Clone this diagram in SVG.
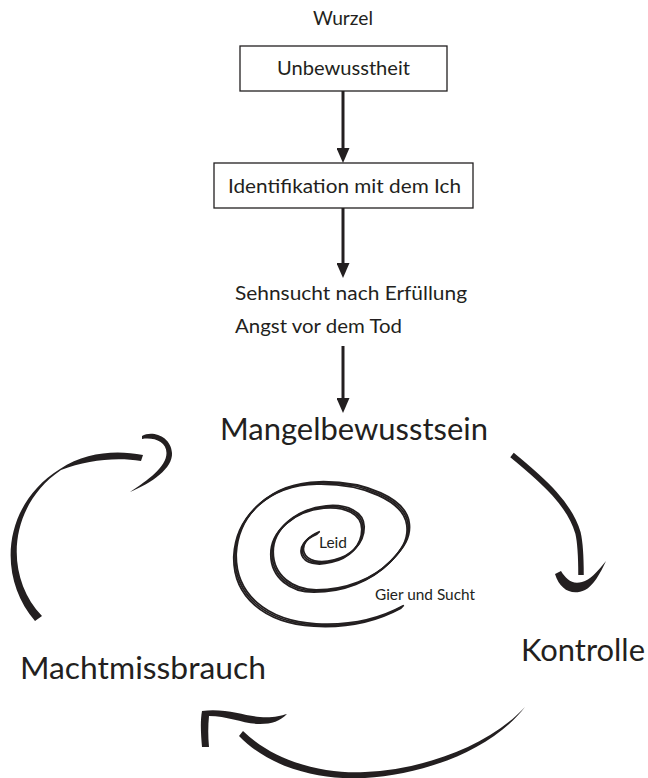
<svg xmlns="http://www.w3.org/2000/svg" xmlns:xlink="http://www.w3.org/1999/xlink" width="648" height="778" viewBox="0 0 648 778">
<style>
  .t { font-family: Lato, "Source Sans Pro", "Noto Sans", sans-serif; fill: #231f20; }
  .box { fill: #ffffff; stroke: #231f20; stroke-width: 1.3; }
  .arr { stroke: #231f20; stroke-width: 3; fill: none; }
  .brush { fill: #231f20; stroke: none; }
  .sp { fill: none; stroke: #231f20; stroke-width: 1.8; stroke-linecap: round; }
</style>
<defs>
  <marker id="ah" viewBox="0 0 15 13" refX="7" refY="6.5" markerWidth="15" markerHeight="13" markerUnits="userSpaceOnUse" orient="auto">
    <path d="M0,0 L15,6.5 L0,13 Z" fill="#231f20"/>
  </marker>
  <path id="spiralPath" d="M318,533 C306,538 300,546 303,554 C306,562 318,565 333,561 C350,557 363,545 363,528 C363,513 346,505 325,507 C295,510 272,530 272,553 C272,577 292,591 315,591 C345,591 372,580 390,562 C403,549 410,538 408,524 C405,500 365,482 318,483 C270,484 237,515 235,555 C234,595 265,622 315,625 C350,627 380,619 402,607"/>
</defs>
<rect width="648" height="778" fill="#ffffff"/>

<g id="connectors">
  <line class="arr" x1="343" y1="91" x2="343" y2="155" marker-end="url(#ah)"/>
  <line class="arr" x1="343" y1="208" x2="343" y2="270" marker-end="url(#ah)"/>
  <line class="arr" x1="343" y1="346" x2="343" y2="405" marker-end="url(#ah)"/>
  <!-- Mangelbewusstsein -> Kontrolle -->
  <path d="M512,455 C545,482 570,505 578,533 C581,546 581,560 581,575" fill="none" stroke="#231f20" stroke-width="5.5"/>
  <path class="brush" d="M555,574 C560,590 572,596 585,590 C593,586 600,574 606,561 C597,572 590,580 582,582 C572,585 566,579 561,571 Z"/>
  <!-- Kontrolle -> Machtmissbrauch -->
  <path class="brush" d="M239,736 C275,773 330,780 365,778 C420,775 490,752 525,707 C488,747 420,770 365,772 C332,774 279,766 243,731 Z"/>
  <path class="brush" d="M202,747 C201,735 200,722 202,711 C226,708 244,716 260,717 C272,718 280,716 287,714 C280,721 272,724 260,724 C244,724 228,716 209,716 C208,726 208,736 209,747 Z"/>
  <!-- Machtmissbrauch -> Mangelbewusstsein -->
  <path class="brush" d="M35,621 C-3,577 2,505 60,469 C86,452 116,450 143,455 L141,461 C116,457 87,460 61,470 C9,505 3,575 42,616 Z"/>
  <path class="brush" d="M142,436 C152,430 171,436 172,453 C173,468 152,483 130,492 C148,480 166.5,467 166.5,453 C166.5,441 153,437 142,439 Z"/>
</g>

<g id="wurzel">
  <text class="t" x="343" y="25" font-size="19" text-anchor="middle" textLength="60" lengthAdjust="spacingAndGlyphs">Wurzel</text>
</g>
<g id="unbewusstheit">
  <rect class="box" x="240" y="46" width="207" height="45"/>
  <text class="t" x="343.5" y="75" font-size="19.5" text-anchor="middle" textLength="133" lengthAdjust="spacingAndGlyphs">Unbewusstheit</text>
</g>
<g id="identifikation">
  <rect class="box" x="214" y="163" width="259" height="45"/>
  <text class="t" x="344.5" y="193" font-size="19.5" text-anchor="middle" textLength="233" lengthAdjust="spacingAndGlyphs">Identifikation mit dem Ich</text>
</g>
<g id="sehnsucht">
  <text class="t" x="235" y="300" font-size="19.5" textLength="232" lengthAdjust="spacingAndGlyphs">Sehnsucht nach Erfüllung</text>
  <text class="t" x="235" y="333" font-size="19.5" textLength="167" lengthAdjust="spacingAndGlyphs">Angst vor dem Tod</text>
</g>
<g id="mangelbewusstsein">
  <text class="t" x="220" y="440" font-size="31" textLength="268" lengthAdjust="spacingAndGlyphs">Mangelbewusstsein</text>
</g>
<g id="kontrolle">
  <text class="t" x="521" y="661" font-size="30" textLength="124" lengthAdjust="spacingAndGlyphs">Kontrolle</text>
</g>
<g id="machtmissbrauch">
  <text class="t" x="20" y="679" font-size="30" textLength="246" lengthAdjust="spacingAndGlyphs">Machtmissbrauch</text>
</g>
<g id="spiral">
  <use xlink:href="#spiralPath" class="sp" transform="translate(-1.2,1.2)"/>
  <use xlink:href="#spiralPath" class="sp"/>
  <use xlink:href="#spiralPath" class="sp" transform="translate(1.2,-1.2)"/>
  <text class="t" x="319" y="548" font-size="15" textLength="28" lengthAdjust="spacingAndGlyphs">Leid</text>
  <text class="t" x="375" y="600" font-size="15" textLength="100" lengthAdjust="spacingAndGlyphs">Gier und Sucht</text>
</g>
</svg>
